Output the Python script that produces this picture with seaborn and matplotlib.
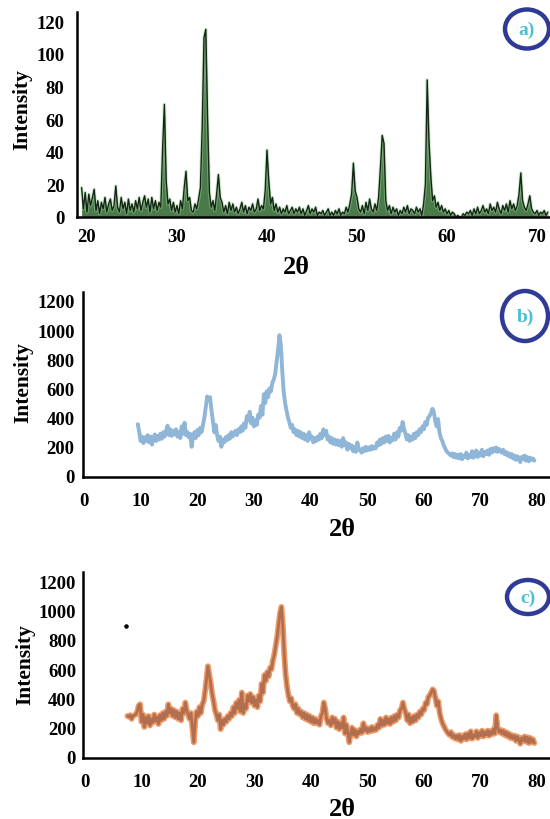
import numpy as np
import pandas as pd
import matplotlib
matplotlib.use("Agg")
import matplotlib.pyplot as plt
import seaborn as sns
from matplotlib.patches import Ellipse

# ---- data ----
# a) 2theta from 19.4 in 0.2 steps
a_start = 19.4
a_step = 0.2
a_intensity = [
    18, 5, 15, 3, 14, 7, 12, 17, 4, 10,
    2, 9, 5, 12, 3, 8, 11, 4, 7, 19,
    6, 3, 12, 5, 9, 2, 11, 4, 8, 3,
    10, 5, 12, 4, 9, 13, 6, 11, 3, 12,
    5, 10, 4, 9, 6, 42, 69, 22, 8, 11,
    4, 9, 3, 7, 2, 10, 5, 18, 28, 10,
    12, 4, 3, 8, 5, 11, 18, 55, 110, 115,
    60, 15, 6, 10, 4, 14, 26, 12, 9, 3,
    7, 2, 9, 4, 8, 3, 6, 2, 5, 9,
    3, 7, 2, 6, 4, 8, 3, 5, 11, 4,
    7, 5, 16, 41, 22, 8, 12, 4, 8, 3,
    6, 2, 5, 3, 7, 2, 4, 6, 2, 5,
    3, 6, 2, 5, 1, 4, 7, 2, 5, 3,
    6, 1, 3, 2, 4, 1, 3, 5, 1, 3,
    1, 4, 2, 5, 1, 3, 2, 6, 3, 8,
    14, 33, 16, 12, 5, 3, 7, 2, 9, 4,
    11, 5, 3, 8, 4, 12, 30, 50, 45, 10,
    4, 7, 2, 6, 3, 5, 1, 4, 2, 6,
    3, 7, 2, 5, 4, 2, 6, 3, 5, 1,
    8, 20, 84, 46, 25, 10, 13, 6, 9, 4,
    7, 3, 5, 2, 4, 1, 3, 2, 0, 1,
    0, 0, 2, 1, 3, 2, 4, 1, 5, 2,
    6, 2, 4, 7, 3, 5, 2, 8, 4, 6,
    3, 9, 5, 2, 7, 4, 8, 3, 10, 5,
    8, 4, 7, 14, 27, 10, 6, 4, 8, 13,
    5, 3, 2, 4, 1, 3, 2, 4, 1, 3,
]

# b) 2theta from 9.5 in 0.25 steps
b_start = 9.5
b_step = 0.25
b_intensity = [
    355, 300, 240, 270, 225, 265, 240, 280,
    230, 270, 215, 260, 285, 240, 275, 250,
    290, 255, 300, 270, 310, 345, 280, 320,
    275, 310, 285, 320, 270, 300, 260, 340,
    290, 365, 280, 300, 265, 290, 200, 270,
    300, 260, 315, 280, 330, 300, 350, 400,
    470, 545, 520, 540, 450, 380, 300, 350,
    280, 240, 270, 200, 250, 230, 265, 245,
    280, 255, 300, 270, 290, 310, 280, 320,
    300, 340, 310, 360, 330, 410, 380, 440,
    360, 400, 340, 380, 350, 420, 400, 480,
    420, 560, 500, 580, 540, 600, 580, 640,
    660, 700, 780, 860, 965, 900, 720, 580,
    500, 450, 400, 370, 330, 350, 300, 320,
    280, 310, 270, 300, 260, 290, 250, 280,
    240, 300, 255, 270, 230, 260, 240, 270,
    250, 290, 260, 320, 280, 310, 250, 270,
    230, 260, 220, 250, 215, 245, 210, 240,
    200, 260, 210, 230, 180, 220, 190, 210,
    170, 200, 165, 230, 190, 175, 160, 190,
    170, 200, 175, 195, 180, 205, 185, 200,
    190, 230, 210, 250, 220, 260, 230, 270,
    240, 275, 230, 260, 245, 290, 250, 300,
    270, 330, 310, 370, 320, 290, 250, 280,
    240, 270, 250, 290, 260, 300, 280, 320,
    300, 340, 320, 370, 350, 400, 410, 430,
    460, 440, 380, 340, 390, 300, 260, 240,
    210, 190, 170, 160, 150, 140, 155, 130,
    150, 125, 145, 120, 150, 115, 140, 130,
    160, 120, 145, 130, 170, 125, 150, 175,
    130, 160, 140, 180, 135, 165, 150, 175,
    145, 185, 160, 190, 170, 195, 165, 185,
    175, 160, 180, 150, 165, 140, 155, 130,
    150, 120, 140, 110, 135, 125, 95, 130,
    115, 140, 105, 130, 100, 125, 110, 120,
    105,
]

# c) 2theta from 7.5 in 0.25 steps
c_start = 7.5
c_step = 0.25
c_intensity = [
    280, 275, 285, 260, 280, 285, 290, 310,
    350, 360, 240, 290, 205, 270, 230, 280,
    215, 260, 235, 290, 245, 270, 225, 285,
    250, 300, 260, 310, 280, 360, 300, 330,
    280, 320, 270, 310, 260, 300, 250, 330,
    300, 372, 320, 290, 260, 300, 200, 100,
    240, 310, 280, 340, 300, 360, 380, 450,
    530, 620, 560, 500, 430, 380, 320, 290,
    250, 290, 190, 250, 220, 260, 240, 280,
    260, 300, 280, 340, 300, 370, 330, 390,
    310, 440, 300, 360, 330, 420, 380, 430,
    370, 410, 350, 390, 340, 420, 380, 500,
    440, 560, 520, 580, 550, 610, 600, 660,
    700, 760, 820, 900, 980, 1025, 900, 700,
    560, 480, 420, 380, 400, 350, 330, 360,
    300, 330, 290, 310, 270, 300, 260, 290,
    250, 280, 240, 270, 230, 260, 230, 250,
    220, 280, 300, 372, 330, 260, 230, 250,
    215, 270, 230, 260, 200, 240, 190, 230,
    200, 270, 160, 220, 170, 100, 160, 200,
    150, 185, 140, 175, 160, 190, 165, 230,
    180, 200, 170, 195, 175, 205, 180, 200,
    185, 220, 200, 260, 215, 250, 220, 270,
    230, 260, 225, 270, 240, 280, 250, 290,
    270, 320, 330, 372, 330, 300, 250, 290,
    230, 270, 240, 280, 250, 290, 270, 310,
    290, 330, 320, 370, 360, 410, 420, 440,
    462, 450, 400, 350, 380, 300, 260, 230,
    210, 190, 175, 160, 150, 170, 135, 150,
    125, 145, 120, 150, 110, 140, 125, 155,
    120, 160, 130, 175, 125, 150, 140, 175,
    130, 165, 145, 180, 140, 170, 150, 180,
    145, 175, 155, 190, 160, 285, 200, 170,
    185, 160, 180, 150, 170, 140, 160, 130,
    150, 125, 145, 110, 140, 120, 90, 130,
    110, 140, 105, 135, 95, 130, 100, 120,
    95,
]
c_stray_point = (7.3, 892)

a_xticks = [20, 30, 40, 50, 60, 70]
a_yticks = [0, 20, 40, 60, 80, 100, 120]
bc_xticks = [0, 10, 20, 30, 40, 50, 60, 70, 80]
bc_yticks = [0, 200, 400, 600, 800, 1000, 1200]


def make_df(start, step, vals):
    vals = np.asarray(vals, dtype=float)
    return pd.DataFrame({"two_theta": start + step * np.arange(len(vals)),
                         "intensity": vals})


df_a = make_df(a_start, a_step, a_intensity)
df_b = make_df(b_start, b_step, b_intensity)
df_c = make_df(c_start, c_step, c_intensity)

sns.set_style("white")
plt.rcParams["font.family"] = ["Liberation Serif", "DejaVu Serif"]
plt.rcParams["font.weight"] = "bold"
plt.rcParams["text.color"] = "black"

W, H = 550, 820
fig = plt.figure(figsize=(5.5, 8.2), dpi=100)


def px_axes(left, top, right, bottom):
    return fig.add_axes([left / W, 1 - bottom / H, (right - left) / W, (bottom - top) / H])


def style(ax, xticks, yticks, xpad, ypad):
    sns.despine(ax=ax)
    for s in ("left", "bottom"):
        ax.spines[s].set_color("black")
        ax.spines[s].set_linewidth(1.8)
    ax.set_xticks(xticks)
    ax.set_yticks(yticks)
    ax.tick_params(axis="both", length=0, labelsize=13.5, colors="black")
    ax.tick_params(axis="x", pad=xpad)
    ax.tick_params(axis="y", pad=ypad)
    for lab in ax.get_xticklabels() + ax.get_yticklabels():
        lab.set_fontweight("bold")
    ax.set_xlabel("")
    ax.set_ylabel("")
    ax.set_facecolor("none")


def badge(cx, cy, w, h, txt):
    fig.add_artist(Ellipse((cx / W, 1 - cy / H), w / W, h / H, transform=fig.transFigure,
                           fill=False, edgecolor="#2e3a95", linewidth=3.2))
    fig.text(cx / W, 1 - cy / H, txt, ha="center", va="center", fontsize=14,
             fontweight="bold", color="#48c0d4")


# ---- panel a ----
ax_a = px_axes(77, 13, 550, 218)
ax_a.fill_between(df_a["two_theta"], 0, df_a["intensity"], color="#4a7a4a", lw=0)
sns.lineplot(data=df_a, x="two_theta", y="intensity", ax=ax_a, color="#9ed39e",
             lw=2.4, alpha=0.5, estimator=None)
sns.lineplot(data=df_a, x="two_theta", y="intensity", ax=ax_a, color="#142614",
             lw=1.0, estimator=None)
ax_a.set_xlim(20 - 10 / 9, 70 + 13 / 9)
ax_a.set_ylim(0, 125.6)
style(ax_a, a_xticks, a_yticks, 8, 9)

# ---- panel b ----
ax_b = px_axes(83, 293, 550, 478)
sns.lineplot(data=df_b, x="two_theta", y="intensity", ax=ax_b, color="#8fb5d7",
             lw=2.8, estimator=None)
ax_b.set_xlim(-1 / 5.74, 80 + 13 / 5.74)
ax_b.set_ylim(-7, 1261)
style(ax_b, bc_xticks, bc_yticks, 11, 6)

# ---- panel c ----
ax_c = px_axes(83, 573, 550, 759)
sns.lineplot(data=df_c, x="two_theta", y="intensity", ax=ax_c, color="#ef9c68",
             lw=4.2, estimator=None)
sns.lineplot(data=df_c, x="two_theta", y="intensity", ax=ax_c, color="#b26f50",
             lw=2.0, estimator=None)
ax_c.scatter([c_stray_point[0]], [c_stray_point[1]], s=5, color="black", zorder=5)
ax_c.set_xlim(-2 / 5.74, 80 + 13 / 5.74)
ax_c.set_ylim(-7, 1263)
style(ax_c, bc_xticks, bc_yticks, 11, 5)

# axis titles placed like the original figure
for (x, y) in [(22, 110), (23, 383), (25, 665)]:
    fig.text(x / W, 1 - y / H, "Intensity", rotation=90, ha="center", va="center",
             fontsize=15.5, fontweight="bold", color="black")
for (x, y) in [(296, 267), (342, 530), (342, 810)]:
    fig.text(x / W, 1 - y / H, "2θ", ha="center", va="center", fontsize=19,
             fontweight="bold", color="black")

badge(527, 30, 44, 39, "a)")
badge(525, 317, 46, 50, "b)")
badge(528, 598, 42, 34, "c)")

fig.savefig("out.png", dpi=100)
